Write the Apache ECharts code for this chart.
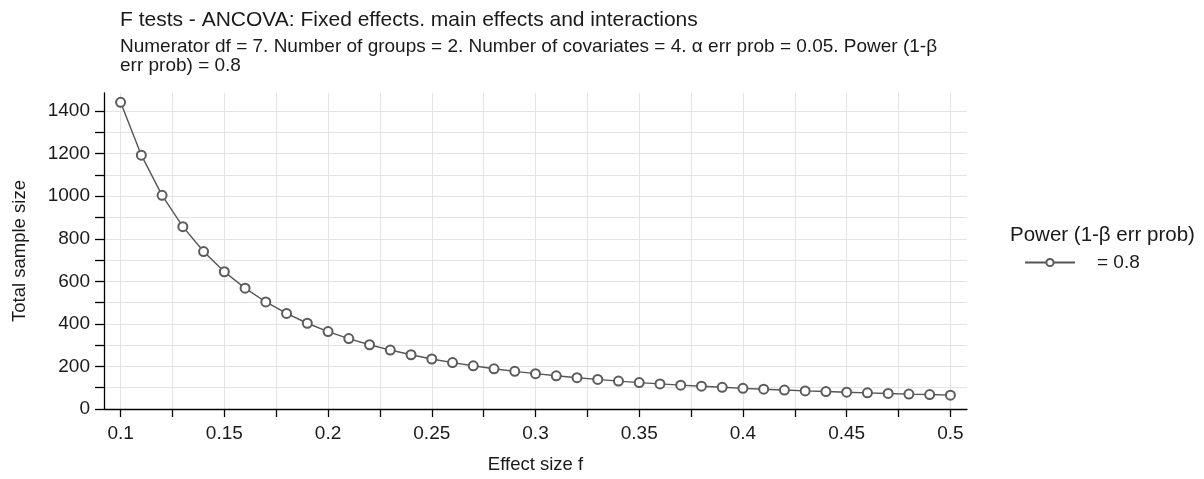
<!DOCTYPE html>
<html>
<head>
<meta charset="utf-8">
<script src="https://cdn.jsdelivr.net/npm/echarts@6/dist/echarts.min.js"></script>
<style>
  html, body { margin: 0; padding: 0; background: #fff; }
  #chart { width: 1204px; height: 479px; }
</style>
</head>
<body>
<div id="chart"></div>
<script>
const effectSizes = [0.10, 0.11, 0.12, 0.13, 0.14, 0.15, 0.16, 0.17, 0.18, 0.19,
  0.20, 0.21, 0.22, 0.23, 0.24, 0.25, 0.26, 0.27, 0.28, 0.29,
  0.30, 0.31, 0.32, 0.33, 0.34, 0.35, 0.36, 0.37, 0.38, 0.39,
  0.40, 0.41, 0.42, 0.43, 0.44, 0.45, 0.46, 0.47, 0.48, 0.49, 0.50]
const sampleSizes = [1441, 1193, 1004, 857, 740, 645, 568, 503, 449, 403,
  364, 331, 302, 277, 255, 235, 218, 203, 189, 177,
  166, 156, 147, 139, 131, 124, 118, 112, 107, 102,
  97, 93, 89, 85, 82, 79, 76, 73, 70, 68, 65]
const xTicks = [0.1, 0.125, 0.15, 0.175, 0.2, 0.225, 0.25, 0.275, 0.3, 0.325,
  0.35, 0.375, 0.4, 0.425, 0.45, 0.475, 0.5]
const xLabels = [0.1, 0.15, 0.2, 0.25, 0.3, 0.35, 0.4, 0.45, 0.5]
const yTicks = [0, 100, 200, 300, 400, 500, 600, 700, 800, 900, 1000, 1100, 1200, 1300, 1400]
const yLabels = [0, 200, 400, 600, 800, 1000, 1200, 1400]

const font = 'Liberation Sans, Arial, sans-serif'
const chart = echarts.init(document.getElementById('chart'))

chart.setOption({
  animation: false,
  textStyle: { fontFamily: font },
  title: [{
    text: 'F tests - ANCOVA: Fixed effects. main effects and interactions',
    subtext: 'Numerator df = 7. Number of groups = 2. Number of covariates = 4. α err prob = 0.05. Power (1-β\nerr prob) = 0.8',
    left: 115,
    top: 5,
    itemGap: 6,
    textStyle: { fontFamily: font, fontSize: 21, fontWeight: 'normal', color: '#1a1a1a' },
    subtextStyle: { fontFamily: font, fontSize: 19, color: '#1a1a1a', lineHeight: 19 }
  }, {
    text: 'Power (1-β err prob)',
    left: 1005,
    top: 220,
    textStyle: { fontFamily: font, fontSize: 20.5, fontWeight: 'normal', color: '#1a1a1a' }
  }],
  legend: {
    left: 1019,
    top: 248,
    orient: 'vertical',
    itemWidth: 50,
    itemHeight: 9,
    textStyle: { fontFamily: font, fontSize: 19, color: '#1a1a1a', padding: [0, 0, 0, 17] },
    data: ['= 0.8']
  },
  grid: { left: 104, right: 237, top: 93, bottom: 70 },
  xAxis: {
    type: 'value',
    min: 0.092,
    max: 0.508,
    name: 'Effect size f',
    nameLocation: 'middle',
    nameGap: 46,
    nameTextStyle: { fontFamily: font, fontSize: 18.5, color: '#1a1a1a' },
    axisLine: { show: true, onZero: false, lineStyle: { color: '#000', width: 1.3 } },
    axisTick: { show: true, length: 8, customValues: xTicks, lineStyle: { color: '#000', width: 1.3 } },
    axisLabel: { customValues: xLabels, margin: 15, fontSize: 19, color: '#1a1a1a', fontFamily: font },
    splitLine: { show: true, lineStyle: { color: '#e4e4e4', width: 1 } }
  },
  yAxis: {
    type: 'value',
    min: 0,
    max: 1485,
    name: 'Total sample size',
    nameLocation: 'middle',
    nameGap: 75,
    nameTextStyle: { fontFamily: font, fontSize: 18.5, color: '#1a1a1a' },
    axisLine: { show: true, onZero: false, lineStyle: { color: '#000', width: 1.3 } },
    axisTick: { show: true, length: 9, customValues: yTicks, lineStyle: { color: '#000', width: 1.3 } },
    axisLabel: { customValues: yLabels, margin: 14, fontSize: 19, color: '#1a1a1a', fontFamily: font, formatter: v => String(v) },
    splitLine: { show: true, lineStyle: { color: '#e4e4e4', width: 1 } }
  },
  series: [{
    name: '= 0.8',
    type: 'line',
    data: effectSizes.map((f, i) => [f, sampleSizes[i]]),
    symbol: 'emptyCircle',
    symbolSize: 9,
    lineStyle: { color: '#555', width: 1.4 },
    itemStyle: { color: '#5c5c5c', borderColor: '#5c5c5c', borderWidth: 3.5 }
  }]
})
</script>
</body>
</html>
